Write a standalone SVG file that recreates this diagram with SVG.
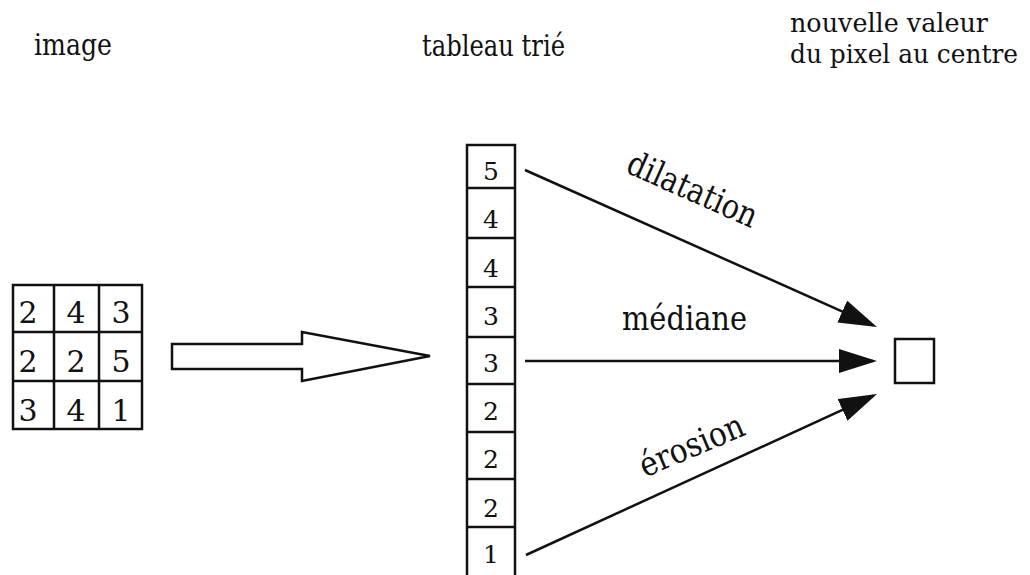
<svg xmlns="http://www.w3.org/2000/svg" width="1030" height="575" viewBox="0 0 1030 575">
  <style>
    text { font-family: "DejaVu Serif", "Liberation Serif", serif; fill: #111; }
    .title { font-size: 29px; }
    .title2 { font-size: 26px; }
    .cell { font-size: 30px; text-anchor: middle; }
    .val { font-size: 25px; text-anchor: middle; }
    .op { font-size: 34px; }
    .box { fill: #fff; stroke: #111; stroke-width: 2.5; }
    .grid { stroke: #111; stroke-width: 2.5; fill: none; }
    .conn { stroke: #111; stroke-width: 2.5; fill: none; marker-end: url(#head); }
  </style>
  <defs>
    <marker id="head" viewBox="0 0 38 24" refX="34" refY="12" markerWidth="38" markerHeight="24" markerUnits="userSpaceOnUse" orient="auto">
      <path d="M0,0 L38,12 L0,24 Z" fill="#111"/>
    </marker>
  </defs>
  <rect width="1030" height="575" fill="#fff"/>

  <!-- column headings -->
  <g id="headings">
    <text class="title" x="34" y="55" textLength="78" lengthAdjust="spacingAndGlyphs">image</text>
    <text class="title" x="422" y="56" textLength="143" lengthAdjust="spacingAndGlyphs">tableau trié</text>
    <text class="title2" x="790" y="32" textLength="198" lengthAdjust="spacingAndGlyphs">nouvelle valeur</text>
    <text class="title2" x="790" y="63" textLength="228" lengthAdjust="spacingAndGlyphs">du pixel au centre</text>
  </g>

  <!-- 3x3 neighbourhood -->
  <g id="image-grid">
    <rect class="box" x="13" y="285" width="129" height="144"/>
    <path class="grid" d="M54,285 V429 M99,285 V429 M13,332 H142 M13,381 H142"/>
    <text class="cell" x="28" y="323">2</text>
    <text class="cell" x="76" y="323">4</text>
    <text class="cell" x="121" y="323">3</text>
    <text class="cell" x="28" y="372">2</text>
    <text class="cell" x="76" y="372">2</text>
    <text class="cell" x="121" y="372">5</text>
    <text class="cell" x="28" y="421">3</text>
    <text class="cell" x="76" y="421">4</text>
    <text class="cell" x="121" y="421">1</text>
  </g>

  <!-- sorting arrow -->
  <g id="sort-arrow">
    <polygon class="box" points="172,344 302,344 302,332 430,356 302,381 302,369 172,369"/>
  </g>

  <!-- sorted values -->
  <g id="sorted-column">
    <rect class="box" x="467" y="145" width="48" height="440"/>
    <path class="grid" d="M467,188 H515 M467,238 H515 M467,287 H515 M467,337 H515 M467,384 H515 M467,432 H515 M467,479 H515 M467,527 H515"/>
    <text class="val" x="491" y="180">5</text>
    <text class="val" x="491" y="228">4</text>
    <text class="val" x="491" y="277">4</text>
    <text class="val" x="491" y="325">3</text>
    <text class="val" x="491" y="372">3</text>
    <text class="val" x="491" y="420">2</text>
    <text class="val" x="491" y="468">2</text>
    <text class="val" x="491" y="517">2</text>
    <text class="val" x="491" y="563">1</text>
  </g>

  <!-- output pixel -->
  <g id="output-pixel">
    <rect class="box" x="895" y="339" width="39" height="44"/>
  </g>

  <!-- operators -->
  <g id="connectors">
    <line class="conn" x1="525" y1="170" x2="873.3" y2="325.4"/>
    <line class="conn" x1="525" y1="361" x2="873" y2="361"/>
    <line class="conn" x1="526" y1="555" x2="873.4" y2="395.7"/>
  </g>
  <g id="labels">
    <text class="op" text-anchor="middle" transform="translate(688,200) rotate(24)" textLength="139" lengthAdjust="spacingAndGlyphs">dilatation</text>
    <text class="op" x="622" y="330" textLength="125" lengthAdjust="spacingAndGlyphs">médiane</text>
    <text class="op" text-anchor="middle" transform="translate(696,456) rotate(-23)" textLength="111" lengthAdjust="spacingAndGlyphs">érosion</text>
  </g>
</svg>
